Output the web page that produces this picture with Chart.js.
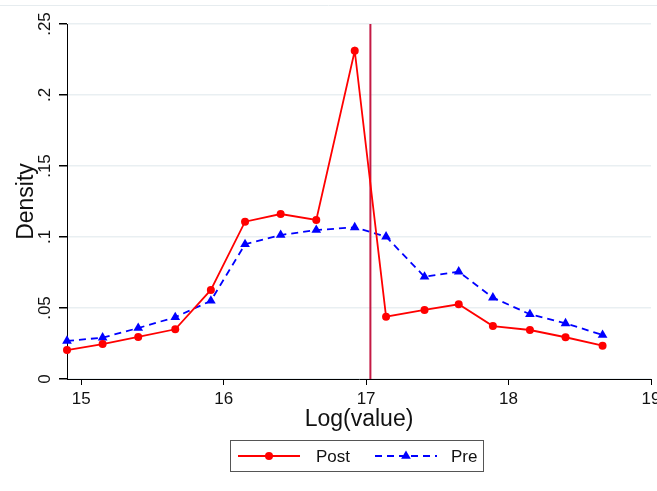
<!DOCTYPE html>
<html>
<head>
<meta charset="utf-8">
<script src="https://cdn.jsdelivr.net/npm/chart.js@4"></script>
<style>
  html, body { margin: 0; padding: 0; background: #fff; }
  #wrap { width: 657px; height: 491px; }
</style>
</head>
<body>
<div id="wrap"><canvas id="density"></canvas></div>
<script>
// bin midpoints on the log scale and the two density curves
const logValue = [14.90, 15.15, 15.40, 15.66, 15.91, 16.15, 16.40, 16.65, 16.92, 17.14, 17.41, 17.65, 17.89, 18.15, 18.40, 18.66];
const postDensity = [0.0204, 0.0246, 0.0296, 0.0350, 0.0627, 0.1108, 0.1162, 0.1120, 0.2312, 0.0439, 0.0486, 0.0526, 0.0373, 0.0345, 0.0294, 0.0235];
const preDensity = [0.0268, 0.0291, 0.0359, 0.0435, 0.0551, 0.0949, 0.1014, 0.1049, 0.1068, 0.1002, 0.0720, 0.0756, 0.0573, 0.0456, 0.0392, 0.0310];
const cutoff = 17.03;

const xTicks = [15, 16, 17, 18, 19];
const yTickLabels = ['0', '.05', '.1', '.15', '.2', '.25'];

const FONT = '"Liberation Sans", Arial, sans-serif';
const INK = '#111';

const toPoints = ys => logValue.map((x, i) => ({ x: x, y: ys[i] }));

// rotated y labels, axis titles and the boxed legend, Stata style
const decorations = {
  id: 'decorations',
  afterDraw(chart) {
    const { ctx, chartArea, scales } = chart;
    const y = scales.y;
    ctx.save();

    ctx.strokeStyle = '#e6ecef';
    ctx.lineWidth = 1;
    ctx.beginPath();
    ctx.moveTo(0, 5.5);
    ctx.lineTo(657, 5.5);
    ctx.stroke();

    ctx.fillStyle = INK;
    ctx.font = '17px ' + FONT;
    ctx.textAlign = 'center';
    ctx.textBaseline = 'alphabetic';
    y.ticks.forEach((t, i) => {
      ctx.save();
      ctx.translate(50, y.getPixelForValue(t.value));
      ctx.rotate(-Math.PI / 2);
      ctx.fillText(yTickLabels[i], 0, 0);
      ctx.restore();
    });

    ctx.font = '23px ' + FONT;
    ctx.save();
    ctx.translate(33, (chartArea.top + chartArea.bottom) / 2);
    ctx.rotate(-Math.PI / 2);
    ctx.fillText('Density', 0, 0);
    ctx.restore();
    ctx.fillText('Log(value)', (chartArea.left + chartArea.right) / 2, 426);

    // legend
    ctx.strokeStyle = '#555';
    ctx.lineWidth = 1;
    ctx.strokeRect(230.5, 440.5, 253, 31);

    const ly = 456;
    const post = chart.data.datasets[0];
    const pre = chart.data.datasets[1];

    ctx.strokeStyle = post.borderColor;
    ctx.lineWidth = post.borderWidth;
    ctx.beginPath();
    ctx.moveTo(238, ly);
    ctx.lineTo(300, ly);
    ctx.stroke();
    ctx.fillStyle = post.backgroundColor;
    ctx.beginPath();
    ctx.arc(269, ly, post.pointRadius, 0, Math.PI * 2);
    ctx.fill();

    ctx.strokeStyle = pre.borderColor;
    ctx.lineWidth = pre.borderWidth;
    ctx.setLineDash(pre.borderDash);
    ctx.beginPath();
    ctx.moveTo(375, ly);
    ctx.lineTo(437, ly);
    ctx.stroke();
    ctx.setLineDash([]);
    ctx.fillStyle = pre.backgroundColor;
    const r = pre.pointRadius;
    ctx.beginPath();
    ctx.moveTo(406, ly - r);
    ctx.lineTo(406 + r * Math.sin(Math.PI * 2 / 3), ly + r / 2);
    ctx.lineTo(406 - r * Math.sin(Math.PI * 2 / 3), ly + r / 2);
    ctx.closePath();
    ctx.fill();

    ctx.fillStyle = INK;
    ctx.font = '17px ' + FONT;
    ctx.textAlign = 'left';
    ctx.fillText('Post', 316, ly + 6);
    ctx.fillText('Pre', 451, ly + 6);

    ctx.restore();
  }
};

new Chart(document.getElementById('density'), {
  type: 'line',
  data: {
    datasets: [
      {
        label: 'Post',
        data: toPoints(postDensity),
        borderColor: '#ff0000',
        backgroundColor: '#ff0000',
        borderWidth: 1.8,
        pointStyle: 'circle',
        pointRadius: 4,
        pointBorderWidth: 0,
        clip: false
      },
      {
        label: 'Pre',
        data: toPoints(preDensity),
        borderColor: '#0000ff',
        backgroundColor: '#0000ff',
        borderWidth: 1.8,
        borderDash: [7, 5],
        pointStyle: 'triangle',
        pointRadius: 5.6,
        pointBorderWidth: 0,
        clip: false
      },
      {
        label: 'cutoff',
        data: [{ x: cutoff, y: 0 }, { x: cutoff, y: 0.25 }],
        borderColor: '#c41a44',
        borderWidth: 2,
        pointRadius: 0
      }
    ]
  },
  options: {
    responsive: true,
    maintainAspectRatio: false,
    animation: false,
    layout: { padding: { left: 0, right: 6, top: 24, bottom: 0 } },
    plugins: {
      legend: { display: false },
      tooltip: { enabled: false }
    },
    scales: {
      x: {
        type: 'linear',
        min: 14.9,
        max: 19,
        afterBuildTicks: s => { s.ticks = xTicks.map(v => ({ value: v })); },
        afterFit: s => { s.height = 112; s.paddingLeft = 0; s.paddingRight = 0; },
        ticks: {
          color: INK,
          font: { family: FONT, size: 17 },
          padding: 4,
          maxRotation: 0
        },
        grid: { drawOnChartArea: false, tickLength: 6, color: '#000' },
        border: { color: '#000', width: 1 }
      },
      y: {
        min: 0,
        max: 0.25,
        afterFit: s => { s.width = 67; s.paddingTop = 0; s.paddingBottom = 0; },
        ticks: { stepSize: 0.05, display: false },
        grid: { color: '#e9eff2', tickColor: '#000', tickLength: 8, lineWidth: 1.5 },
        border: { color: '#000', width: 1 }
      }
    }
  },
  plugins: [decorations]
});
</script>
</body>
</html>
